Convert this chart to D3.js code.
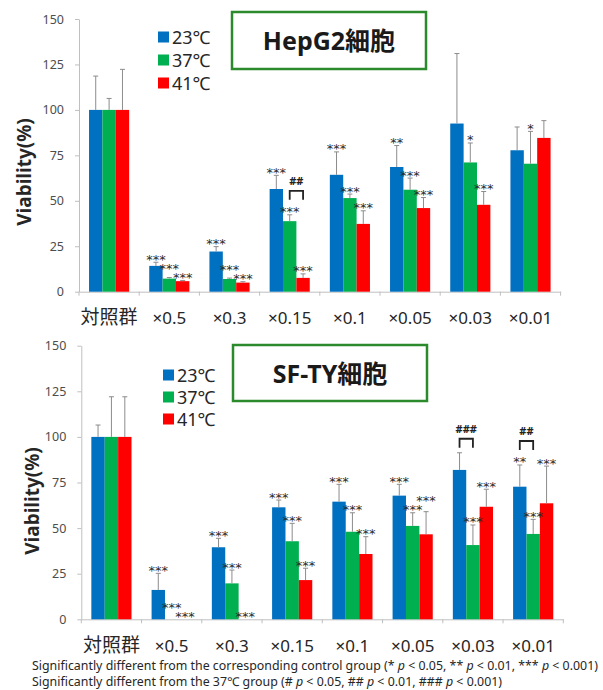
<!DOCTYPE html>
<html>
<head>
<meta charset="utf-8">
<script src="https://cdn.jsdelivr.net/npm/d3@7"></script>
<style>
  body { margin: 0; background: #fff; }
</style>
</head>
<body>
<svg id="chart" width="603" height="690"></svg>
<script>
(function () {
  'use strict';

  /* ── DATA ── */
  const CATEGORIES = ['対照群', '×0.5', '×0.3', '×0.15', '×0.1', '×0.05', '×0.03', '×0.01'];
  const SERIES     = ['23℃', '37℃', '41℃'];
  const Y_TICKS    = [0, 25, 50, 75, 100, 125, 150];

  // HepG2 cells: mean viability (%) and upper SD
  const HEP_23    = [100, 14.2, 22.1, 56.5, 64.3, 68.6, 92.5, 77.8];
  const HEP_37    = [100,  7.2,  7.0, 38.8, 51.5, 56.1, 71.1, 70.4];
  const HEP_41    = [100,  5.8,  5.0,  7.6, 37.3, 46.0, 47.8, 84.6];
  const HEP_23_SD = [18.6, 2.0, 2.7, 7.5, 12.6, 11.8, 38.5, 12.8];
  const HEP_37_SD = [ 6.3, 0.6, 0.5, 3.5,  2.2,  6.4, 10.7, 17.8];
  const HEP_41_SD = [22.3, 0.4, 0.5, 2.2,  7.2,  5.8,  7.3,  9.5];
  const HEP_23_SIG = ['', '***', '***', '***', '***', '**',  '',    ''];
  const HEP_37_SIG = ['', '***', '***', '***', '***', '***', '*',   '*'];
  const HEP_41_SIG = ['', '***', '***', '***', '***', '***', '***', ''];
  const HEP_BRACKETS = [{ cat: '×0.15', from: '37℃', to: '41℃', mark: '##' }];

  // SF-TY cells
  const SF_23    = [100, 16.1, 39.5, 61.4, 64.5, 67.8, 81.9, 72.7];
  const SF_37    = [100,  0,   19.7, 42.8, 48.0, 51.2, 40.7, 46.8];
  const SF_41    = [100,  0,    0,   21.5, 35.8, 46.6, 61.7, 63.6];
  const SF_23_SD = [ 6.5, 9.1, 4.9, 4.0,  9.5,  6.2,  9.4, 11.9];
  const SF_37_SD = [22.0, 0,   7.3, 9.8, 10.4,  7.2, 11.0,  8.0];
  const SF_41_SD = [22.0, 0,   0,   6.5,  9.5, 12.4,  9.6, 20.4];
  const SF_23_SIG = ['', '***', '***', '***', '***', '***', '',    '**'];
  const SF_37_SIG = ['', '***', '***', '***', '***', '***', '***', '***'];
  const SF_41_SIG = ['', '***', '***', '***', '***', '***', '***', '***'];
  const SF_BRACKETS = [
    { cat: '×0.03', from: '23℃', to: '37℃', mark: '###' },
    { cat: '×0.01', from: '23℃', to: '37℃', mark: '##' },
  ];

  const NOTE_1 = ['Significantly different from the corresponding control group (* ', 'p', ' < 0.05, ** ', 'p', ' < 0.01, *** ', 'p', ' < 0.001)'];
  const NOTE_2 = ['Significantly different from the 37℃ group (# ', 'p', ' < 0.05, ## ', 'p', ' < 0.01, ### ', 'p', ' < 0.001)'];

  /* ── STYLE ── */
  const COLORS    = { '23℃': '#0070C0', '37℃': '#00B050', '41℃': '#FF0000' };
  const FONT      = "'Noto Sans', 'Noto Sans CJK JP', sans-serif";
  const AXIS_GRAY = '#BFBFBF';
  const ERR_GRAY  = '#8C8C8C';
  const TICK_TEXT = '#4D4D4D';
  const INK       = '#262626';
  const BOX_GREEN = '#2B8A2B';

  const PANELS = [
    {
      title: 'HepG2細胞',
      values: [HEP_23, HEP_37, HEP_41], sd: [HEP_23_SD, HEP_37_SD, HEP_41_SD],
      sig: [HEP_23_SIG, HEP_37_SIG, HEP_41_SIG], brackets: HEP_BRACKETS,
      left: 79, right: 560.6, top: 19, bottom: 291.7, labelDy: 32,
      yTitle: { x: 31, y: 172 }, legend: { x: 158, y: 37, gap: 23 },
      box: { x: 232, y: 12, w: 194, h: 57, base: 50 },
    },
    {
      title: 'SF-TY細胞',
      values: [SF_23, SF_37, SF_41], sd: [SF_23_SD, SF_37_SD, SF_41_SD],
      sig: [SF_23_SIG, SF_37_SIG, SF_41_SIG], brackets: SF_BRACKETS,
      left: 81.3, right: 563.3, top: 345.7, bottom: 619.3, labelDy: 33,
      yTitle: { x: 39, y: 501 }, legend: { x: 163, y: 375, gap: 22 },
      box: { x: 233, y: 345, w: 194, h: 56, base: 383 },
    },
  ];

  const svg = d3.select('#chart');

  /* ── ONE PANEL ── */
  function drawPanel(p) {
    const g  = svg.append('g');
    const x  = d3.scaleBand().domain(CATEGORIES).range([p.left, p.right]);
    const xs = d3.scaleBand().domain(SERIES).range([0, x.bandwidth()]).paddingOuter(0.75);
    const y  = d3.scaleLinear().domain([0, 150]).range([p.bottom, p.top]);
    const bw = xs.bandwidth();
    const cx = (c, s) => x(c) + xs(s) + bw / 2;

    /* y axis */
    g.append('g').attr('transform', `translate(${p.left},0)`)
      .call(d3.axisLeft(y).tickValues(Y_TICKS).tickSize(4).tickSizeOuter(0).tickPadding(11))
      .call(ax => ax.select('.domain').attr('stroke', AXIS_GRAY))
      .call(ax => ax.selectAll('line').attr('stroke', AXIS_GRAY))
      .call(ax => ax.selectAll('text').style('font-family', FONT)
                                       .style('font-size', '12.5px').attr('fill', TICK_TEXT));

    /* x axis */
    g.append('g').attr('transform', `translate(0,${p.bottom})`)
      .call(d3.axisBottom(x).tickSize(0).tickSizeOuter(0))
      .call(ax => ax.select('.domain').attr('stroke', AXIS_GRAY))
      .call(ax => ax.selectAll('text').attr('y', p.labelDy).attr('dy', null)
                    .style('font-family', FONT)
                    .style('font-size', d => /[^\x00-\xff]/.test(d) ? '19px' : '17px')
                    .attr('fill', INK));

    /* category separators */
    g.append('g').selectAll('line')
      .data(CATEGORIES.map(c => x(c)).concat(p.right))
      .join('line')
      .attr('x1', d => d).attr('x2', d => d)
      .attr('y1', p.bottom).attr('y2', p.bottom + 4)
      .attr('stroke', AXIS_GRAY);

    /* bars */
    SERIES.forEach((s, si) => {
      g.append('g').selectAll('rect')
        .data(CATEGORIES.map((c, ci) => ({ c, v: p.values[si][ci] })))
        .join('rect')
        .attr('x', d => x(d.c) + xs(s)).attr('width', bw)
        .attr('y', d => y(d.v)).attr('height', d => y(0) - y(d.v))
        .attr('fill', COLORS[s]);
    });

    /* error bars (upper only) */
    SERIES.forEach((s, si) => {
      const eb = CATEGORIES.map((c, ci) => ({ c, v: p.values[si][ci], e: p.sd[si][ci] }))
        .filter(d => d.e > 0);
      const grp = g.append('g').attr('stroke', ERR_GRAY).attr('stroke-width', 1);
      grp.selectAll('.stem').data(eb).join('line').attr('class', 'stem')
        .attr('x1', d => cx(d.c, s)).attr('x2', d => cx(d.c, s))
        .attr('y1', d => y(d.v)).attr('y2', d => y(d.v + d.e));
      grp.selectAll('.cap').data(eb).join('line').attr('class', 'cap')
        .attr('x1', d => cx(d.c, s) - 2.5).attr('x2', d => cx(d.c, s) + 2.5)
        .attr('y1', d => y(d.v + d.e)).attr('y2', d => y(d.v + d.e));
    });

    /* significance stars — nudge neighbours apart when they collide */
    const starCy = CATEGORIES.map((c, ci) => {
      const m = SERIES.map((s, si) => ({
        text: p.sig[si][ci],
        cy: y(p.values[si][ci] + p.sd[si][ci]) - 6,
      }));
      for (let i = m.length - 2; i >= 0; i--) {
        const a = m[i], b = m[i + 1];
        if (!a.text || !b.text || Math.abs(a.cy - b.cy) >= 9) continue;
        if (a.cy <= b.cy) a.cy = b.cy - 9; else b.cy = a.cy - 9;
      }
      return m;
    });

    const stars = [];
    CATEGORIES.forEach((c, ci) => SERIES.forEach((s, si) => {
      const m = starCy[ci][si];
      if (m.text) stars.push({ x: cx(c, s), cy: m.cy, text: m.text });
    }));
    g.append('g').selectAll('text').data(stars).join('text')
      .attr('x', d => d.x).attr('y', d => d.cy + 7.5)
      .attr('text-anchor', 'middle')
      .style('font-family', "'DejaVu Sans', sans-serif").style('font-size', '13px')
      .attr('fill', '#2b2b2b')
      .text(d => d.text);

    /* brackets vs. 37℃ group */
    p.brackets.forEach(b => {
      const ci = CATEGORIES.indexOf(b.cat);
      const sIdx = [SERIES.indexOf(b.from), SERIES.indexOf(b.to)];
      const topY = d3.min(sIdx, si => Math.min(
        y(p.values[si][ci] + p.sd[si][ci]),
        p.sig[si][ci] ? starCy[ci][si].cy - 4 : Infinity)) - 14;
      const xa = cx(b.cat, b.from), xb = cx(b.cat, b.to);
      g.append('path')
        .attr('d', `M${xa},${topY + 9}V${topY}H${xb}V${topY + 9}`)
        .attr('fill', 'none').attr('stroke', '#222').attr('stroke-width', 1.8);
      g.append('text')
        .attr('x', (xa + xb) / 2).attr('y', topY - 6)
        .attr('text-anchor', 'middle')
        .style('font-family', FONT).style('font-size', '11px').style('font-weight', 700)
        .attr('fill', '#222')
        .text(b.mark);
    });

    /* y title */
    g.append('text')
      .attr('transform', `translate(${p.yTitle.x},${p.yTitle.y}) rotate(-90)`)
      .attr('text-anchor', 'middle')
      .style('font-family', FONT).style('font-size', '19px').style('font-weight', 700)
      .attr('fill', INK)
      .text('Viability(%)');

    /* legend */
    const lg = g.append('g');
    SERIES.forEach((s, i) => {
      const ry = p.legend.y + i * p.legend.gap;
      lg.append('rect').attr('x', p.legend.x).attr('y', ry - 5.5)
        .attr('width', 11).attr('height', 11).attr('fill', COLORS[s]);
      lg.append('text').attr('x', p.legend.x + 14).attr('y', ry + 6.5)
        .style('font-family', FONT)
        .style('font-size', '18px').attr('fill', INK)
        .text(s);
    });

    /* title box */
    g.append('rect')
      .attr('x', p.box.x).attr('y', p.box.y).attr('width', p.box.w).attr('height', p.box.h)
      .attr('fill', '#fff').attr('stroke', BOX_GREEN).attr('stroke-width', 2.5);
    g.append('text')
      .attr('x', p.box.x + p.box.w / 2).attr('y', p.box.base)
      .attr('text-anchor', 'middle')
      .style('font-family', FONT).style('font-size', '25px').style('font-weight', 700)
      .attr('fill', '#1a1a1a')
      .text(p.title);
  }

  PANELS.forEach(drawPanel);

  /* ── FOOTNOTES ── */
  function note(parts, yPos) {
    const t = svg.append('text').attr('x', 32).attr('y', yPos)
      .style('font-family', FONT).style('font-size', '12px').attr('fill', INK);
    parts.forEach((s, i) => t.append('tspan').style('font-style', i % 2 ? 'italic' : null).text(s));
    return t;
  }
  const n1 = note(NOTE_1, 670);
  const n2 = note(NOTE_2, 686);
  const k  = 566 / n1.node().getComputedTextLength();
  n1.attr('textLength', 566).attr('lengthAdjust', 'spacingAndGlyphs');
  n2.attr('textLength', n2.node().getComputedTextLength() * k).attr('lengthAdjust', 'spacingAndGlyphs');
})();
</script>
</body>
</html>
